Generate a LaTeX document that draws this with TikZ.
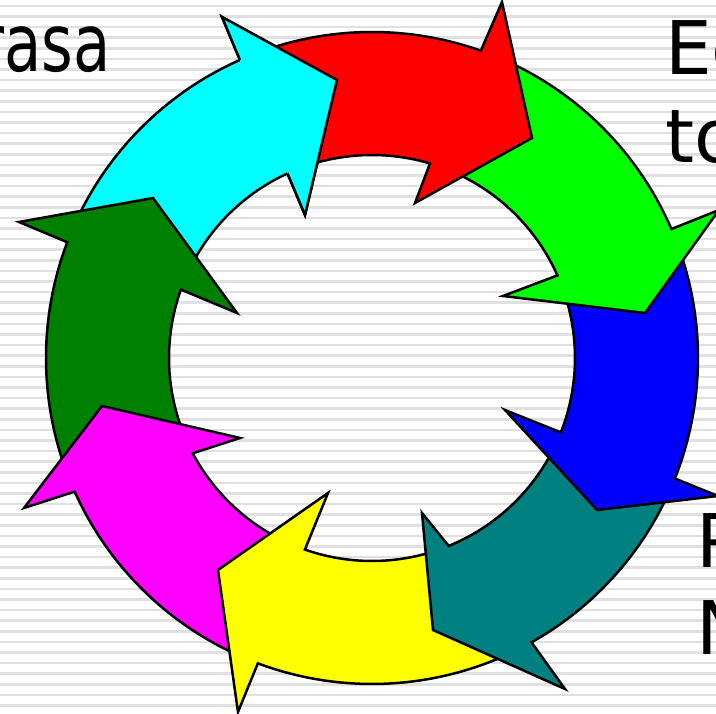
\documentclass[tikz,border=0pt]{standalone}
\usepackage{fontspec}
\setmainfont{DejaVu Sans}
\definecolor{ringred}{RGB}{255,0,0}
\definecolor{ringgreen}{RGB}{0,255,0}
\definecolor{ringblue}{RGB}{0,0,255}
\definecolor{ringteal}{RGB}{0,128,128}
\definecolor{ringyellow}{RGB}{255,255,0}
\definecolor{ringmagenta}{RGB}{255,0,255}
\definecolor{ringdkgreen}{RGB}{0,128,0}
\definecolor{ringcyan}{RGB}{0,255,255}

\begin{document}
\begin{tikzpicture}[x=1pt,y=1pt,
    stripe/.style={line width=2.6pt,black!12},
    ringarrow/.style={draw=black,line width=2.5pt,line join=miter},
    bigtext/.style={inner sep=0pt,font=\fontsize{74}{88}\selectfont}]
  % Frame
  \useasboundingbox (-372,-356) rectangle (344,358);
  \clip (-372,-356) rectangle (344,358);
  \fill[white] (-372,-356) rectangle (344,358);

  % Stripes
  \foreach \k in {0,...,66}
    \draw[stripe] (-372,{352-10.6*\k}) -- (344,{352-10.6*\k});

  % Text
  \node[bigtext,font=\fontsize{80}{88}\selectfont,anchor=base east,xscale=0.76] (rasa) at (-261,286) {rasa};
  \node[bigtext,anchor=base west] (ec) at (293,283) {Ec};
  \node[bigtext,anchor=base west] (to) at (293,195) {to};
  \node[bigtext,anchor=base west] (p) at (324,-210) {P};
  \node[bigtext,anchor=base west] (n) at (324,-297) {N};

  % Arrows: colour / tail out / tail in / joint out / joint in / barb out / tip / barb in
  \foreach \col/\tout/\tin/\jout/\jin/\obx/\oby/\tx/\ty/\ibx/\iby in {
      ringcyan/156.2/157.3/113.9/114.6/-150/341/-35/278/-67/143,
      ringdkgreen/-158.9/-155/-200.8/-199.7/-353/136/-219/160/-135/45,
      ringmagenta/-113.5/-112.1/-155.8/-152/-348/-150/-270/-48/-132/-80,
      ringyellow/-63.7/-70.6/-110.5/-109.3/-134/-354/-154/-212/-44/-135,
      ringteal/-24.5/-24.5/-60.7/-67.8/193/-331/61/-272/50/-155,
      ringblue/20.3/21/-21.7/-21.5/346/-138/225/-152/133/-52,
      ringgreen/67.5/70.4/23.3/24/347/148/273/45/131/62,
      ringred/110.9/111.6/70.5/73.4/130/356/160/220/43/155}
    \draw[ringarrow,fill=\col] (\tout:326) arc[start angle=\tout,end angle=\jout,radius=326]
      -- (\obx,\oby) -- (\tx,\ty) -- (\ibx,\iby) -- (\jin:203)
      arc[start angle=\jin,end angle=\tin,radius=203] -- cycle;

  % Cyan head over the red tail
  \fill[ringcyan] (113.9:326) -- (-150,341) -- (-35,278) -- (-67,143) -- (114.6:203) -- cycle;
  \draw[ringarrow] (113.9:326) -- (-150,341) -- (-35,278) -- (-67,143) -- (114.6:203);
\end{tikzpicture}
\end{document}
